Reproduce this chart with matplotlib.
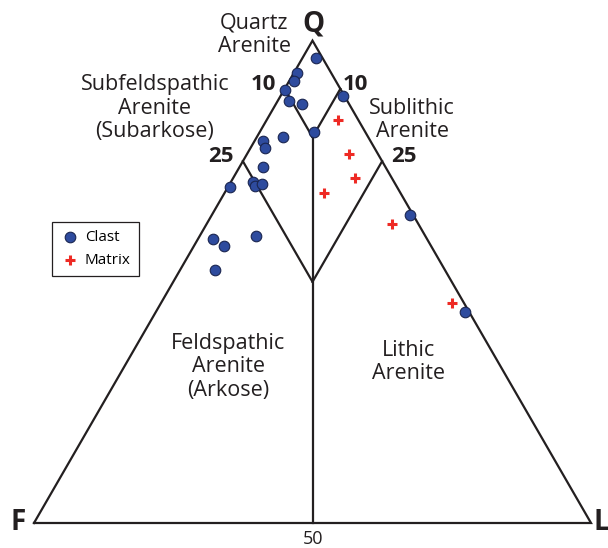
import numpy as np
import matplotlib.pyplot as plt

# ternary compositions in percent (Q, F, L)
clast_q = [96.4, 93.3, 91.7, 89.7, 87.5, 86.9, 88.6, 81.0, 80.1, 79.1, 77.7, 73.7,
           69.6, 70.6, 69.8, 70.3, 58.9, 57.5, 52.5, 59.6, 63.9, 43.7]
clast_f = [1.1, 6.2, 7.4, 10.0, 10.5, 8.5, 0.3, 9.3, 15.3, 19.3, 19.6, 22.0,
           30.1, 25.3, 25.5, 23.9, 38.4, 37.2, 41.2, 30.4, 0.6, 0.8]
clast_l = [2.5, 0.5, 0.9, 0.3, 2.0, 4.6, 11.1, 9.7, 4.6, 1.6, 2.7, 4.3,
           0.3, 4.1, 4.7, 5.8, 2.8, 5.3, 6.3, 10.0, 35.5, 55.5]

matrix_q = [83.5, 76.5, 71.6, 68.4, 62.0, 45.6]
matrix_f = [3.6, 5.2, 6.6, 13.8, 4.7, 2.1]
matrix_l = [12.9, 18.3, 21.8, 17.8, 33.3, 52.3]

# field boundaries (Q, F, L)
boundaries = [
    [(90, 10, 0), (80, 10, 10)],
    [(90, 0, 10), (80, 10, 10)],
    [(75, 25, 0), (50, 25, 25)],
    [(75, 0, 25), (50, 25, 25)],
    [(80, 10, 10), (0, 50, 50)],
]


def tern(q, f, l):
    q = np.asarray(q, float)
    f = np.asarray(f, float)
    l = np.asarray(l, float)
    s = q + f + l
    q, l = q / s, l / s
    return l + q / 2, q * np.sqrt(3) / 2


side = 557.0
fig = plt.figure(figsize=(6.08, 5.48), dpi=100)
ax = fig.add_axes([0, 0, 1, 1])
ax.set_xlim(-34 / side, (608 - 34) / side)
ax.set_ylim(-(548 - 523) / side, 523 / side)
ax.axis("off")

# outline
tx, ty = tern([0, 0, 100, 0], [100, 0, 0, 100], [0, 100, 0, 0])
ax.plot(tx, ty, color="#231f20", lw=1.6, solid_joinstyle="miter", zorder=2)
for a, b in boundaries:
    x, y = tern([a[0], b[0]], [a[1], b[1]], [a[2], b[2]])
    ax.plot(x, y, color="#231f20", lw=1.6, zorder=2)

cx, cy = tern(clast_q, clast_f, clast_l)
ax.scatter(cx, cy, s=58, color="#2e4b9e", edgecolors="#1a2550", linewidths=0.8,
           zorder=4, label="Clast")
mx, my = tern(matrix_q, matrix_f, matrix_l)
ax.scatter(mx, my, s=60, marker="+", color="#ee2a24", linewidths=2.2,
           zorder=4, label="Matrix")

leg = ax.legend(loc="upper left", bbox_to_anchor=(52 / 608, 1 - 222 / 548),
                bbox_transform=fig.transFigure, fancybox=False, framealpha=1,
                edgecolor="#231f20", handletextpad=0.3, borderpad=0.55,
                borderaxespad=0, labelspacing=0.5, handlelength=1.3,
                prop={"family": "Open Sans", "size": 11})
leg.get_frame().set_linewidth(0.9)


def label(x, y, s, size=15.5, weight="normal", **kw):
    fig.text(x / 608, 1 - y / 548, s, ha="center", va="center", fontsize=size,
             fontweight=weight, family="Open Sans", color="#231f20",
             linespacing=1.18, **kw)


label(313, 24, "Q", size=20, weight="bold")
label(18, 522, "F", size=20, weight="bold")
label(601, 522, "L", size=20, weight="bold")
label(313, 539, "50", size=13)
label(254, 35, "Quartz\nArenite")
label(155, 108, "Subfeldspathic\nArenite\n(Subarkose)")
label(412, 120, "Sublithic\nArenite")
label(228, 367, "Feldspathic\nArenite\n(Arkose)")
label(408, 362, "Lithic\nArenite")
label(263, 84, "10", size=16, weight="bold")
label(355, 84, "10", size=16, weight="bold")
label(221, 156, "25", size=16, weight="bold")
label(404, 156, "25", size=16, weight="bold")

fig.savefig("out.png", dpi=100)
